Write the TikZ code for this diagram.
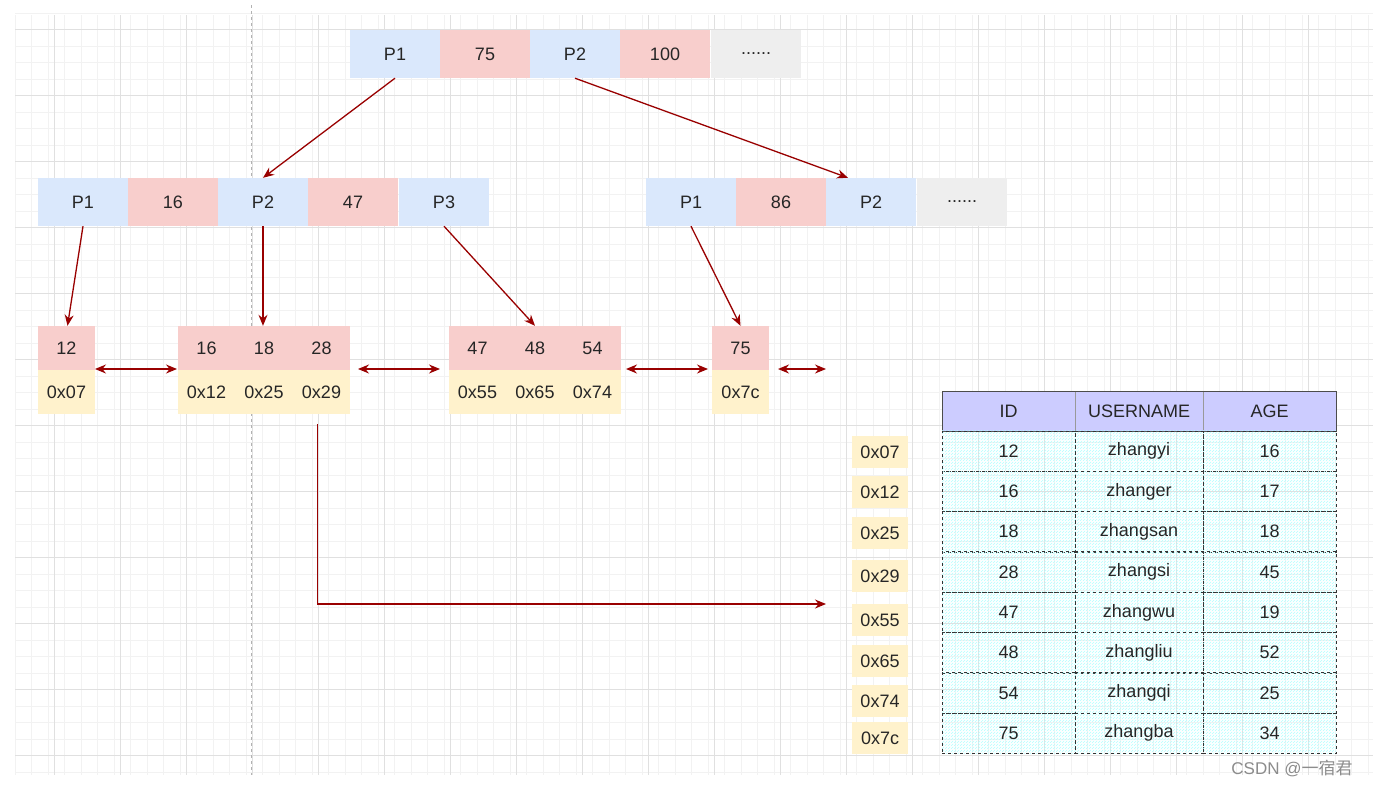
\documentclass[tikz,border=0pt]{standalone}
\usepackage{fontspec}
\setmainfont{Liberation Sans}
\newfontfamily\cjk{Noto Sans CJK SC}
\usetikzlibrary{arrows.meta,patterns}
\definecolor{cb}{HTML}{DAE8FC}
\definecolor{cr}{HTML}{F8CECC}
\definecolor{cy}{HTML}{FFF2CC}
\definecolor{cg}{HTML}{EEEEEE}
\definecolor{ch}{HTML}{CCCCFF}
\definecolor{ca}{HTML}{990000}
\begin{document}
\begin{tikzpicture}[x=1pt,y=-1pt,
  every node/.style={font=\fontsize{18}{20}\selectfont,text=black!85,inner sep=0pt},
  cell/.style={minimum width=90pt,minimum height=48pt},
  lf/.style={minimum width=57.5pt,minimum height=44pt},
  b/.style={cell,fill=cb},r/.style={cell,fill=cr},g/.style={cell,fill=cg},
  lr/.style={lf,fill=cr},ly/.style={lf,fill=cy},
  ad/.style={fill=cy,minimum width=56pt,minimum height=32pt},
  arr/.style={draw=ca,line width=1.3pt,-{Stealth[length=11pt,width=9pt]}},
  darr/.style={draw=ca,line width=1.3pt,{Stealth[length=11pt,width=9pt]}-{Stealth[length=11pt,width=9pt]}},
  tc/.style={minimum height=40.5pt,pattern=north east lines,pattern color=cyan!30,draw=black!80,dashed,line width=0.8pt}]
\useasboundingbox (0,0) rectangle (1373,785);
\fill[white] (0,0) rectangle (1373,785);
\foreach \i in {0,...,82}{\draw[black!5] ({15+16.5*\i},15)--({15+16.5*\i},775);}
\foreach \i in {0,...,46}{\draw[black!5] (15,{13+16.5*\i})--(1373,{13+16.5*\i});}
\foreach \i in {0,...,20}{\draw[black!12] ({54+66*\i},15)--({54+66*\i},775);}
\foreach \i in {0,...,11}{\draw[black!12] (15,{29+66*\i})--(1373,{29+66*\i});}
\draw[black!30,dashed] (251,5)--(251,775);
% root
\node[b] (r1) at (395,54) {P1};
\node[r] (r2) at (485,54) {75};
\node[b] (r3) at (575,54) {P2};
\node[r] (r4) at (665,54) {100};
\node[g] (r5) at (756,54) {......};
% level 2 left
\node[b] (a1) at (83,202) {P1};
\node[r] (a2) at (173,202) {16};
\node[b] (a3) at (263,202) {P2};
\node[r] (a4) at (353,202) {47};
\node[b] (a5) at (444,202) {P3};
% level 2 right
\node[b] (c1) at (691,202) {P1};
\node[r] (c2) at (781,202) {86};
\node[b] (c3) at (871,202) {P2};
\node[g] (c4) at (962,202) {......};
% leaves
\node[lr] (k1) at (66.5,348) {12};
\node[ly] (v1) at (66.5,392) {0x07};
\node[lr] (k2) at (206.5,348) {16};
\node[ly] (v2) at (206.5,392) {0x12};
\node[lr] (k3) at (264,348) {18};
\node[ly] (v3) at (264,392) {0x25};
\node[lr] (k4) at (321.5,348) {28};
\node[ly] (v4) at (321.5,392) {0x29};
\node[lr] (k5) at (477.5,348) {47};
\node[ly] (v5) at (477.5,392) {0x55};
\node[lr] (k6) at (535,348) {48};
\node[ly] (v6) at (535,392) {0x65};
\node[lr] (k7) at (592.5,348) {54};
\node[ly] (v7) at (592.5,392) {0x74};
\node[lr] (k8) at (740.5,348) {75};
\node[ly] (v8) at (740.5,392) {0x7c};
% tree arrows
\draw[arr] (r1.south) -- (a3.north);
\draw[arr] (r3.south) -- ([xshift=-23pt]c3.north);
\draw[arr] (a1.south) -- ([xshift=1pt]k1.north);
\draw[arr] (a3.south) -- ([xshift=-1pt]k3.north);
\draw[arr] (a5.south) -- (k6.north);
\draw[arr] (c1.south) -- (k8.north);
% leaf links
\coordinate (e1) at (826,369);
\coordinate (e2) at (826,604);
\draw[darr] (95,369) -- (177,369);
\draw[darr] (358,369) -- (440,369);
\draw[darr] (626,369) -- (708,369);
\draw[darr] (778,369) -- (e1);
\draw[arr] ([xshift=-4pt]v4.south)++(0,10) |- (e2);
% table
\foreach \n/\x/\w/\t in {h1/1008.5/133/ID,h2/1139/128/USERNAME,h3/1269.5/133/AGE}
  \node[fill=ch,draw=black!40,minimum width=\w pt,minimum height=40.5pt] (\n) at (\x,411) {\t};
\draw[black!70,line width=0.8pt] (942,391) rectangle (1336,431);
\foreach \a/\u/\g/\ad/\ay [count=\i] in {12/zhangyi/16/0x07/452,16/zhanger/17/0x12/492,18/zhangsan/18/0x25/533,28/zhangsi/45/0x29/576,47/zhangwu/19/0x55/620,48/zhangliu/52/0x65/661,54/zhangqi/25/0x74/701,75/zhangba/34/0x7c/738}{
  \node[tc,minimum width=133pt] (t\i a) at (1008.5,{431+40.3*(\i-0.5)}) {\a};
  \node[tc,minimum width=128pt] (t\i b) at (1139,{431+40.3*(\i-0.5)}) {\u};
  \node[tc,minimum width=133pt] (t\i c) at (1269.5,{431+40.3*(\i-0.5)}) {\g};
  \node[ad] (ad\i) at (880,\ay) {\ad};
}
\node[text=black!45,font=\fontsize{17}{18}\selectfont] (wm) at (1292,768) {CSDN @{\cjk 一宿君}};
\end{tikzpicture}
\end{document}
